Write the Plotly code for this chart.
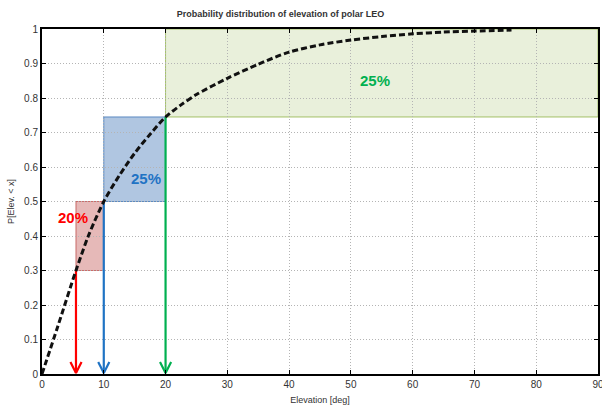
import plotly.graph_objects as go

# CDF curve
elev = [0, 2.5, 5.5, 7.5, 10, 12.5, 15, 17.5, 20, 22.5, 25, 30, 35, 40, 45, 50, 55, 60, 65, 70, 76]
prob = [0, 0.135, 0.3, 0.4, 0.5, 0.575, 0.64, 0.695, 0.745, 0.78, 0.81, 0.857, 0.898, 0.933, 0.954, 0.968, 0.978, 0.986, 0.991, 0.994, 0.997]

# Highlighted bands
band_x0 = [5.5, 10, 20]
band_x1 = [10, 20, 90]
band_y0 = [0.3, 0.5, 0.745]
band_y1 = [0.5, 0.745, 1.0]
band_fill = ["rgba(192,80,77,0.40)", "rgba(79,129,189,0.45)", "rgba(155,187,89,0.22)"]
band_line = ["rgba(192,80,77,0.8)", "rgba(79,129,189,0.9)", "rgba(155,187,89,0.9)"]

# Arrows (x, top y)
arrow_x = [5.5, 10, 20]
arrow_top = [0.3, 0.5, 0.745]
arrow_color = ["#ff0000", "#1f73c4", "#00b050"]

# Percentage labels
label_text = ["20%", "25%", "25%"]
label_x = [5.0, 16.8, 53.9]
label_y = [0.455, 0.568, 0.852]
label_color = ["#ff0000", "#1f73c4", "#00b050"]

xticks = list(range(0, 91, 10))
yticks = [i / 10 for i in range(0, 11)]
ytick_text = ["0", "0.1", "0.2", "0.3", "0.4", "0.5", "0.6", "0.7", "0.8", "0.9", "1"]

fig = go.Figure()

for x0, x1, y0, y1, fc, lc in zip(band_x0, band_x1, band_y0, band_y1, band_fill, band_line):
    fig.add_shape(type="rect", x0=x0, x1=x1, y0=y0, y1=y1, fillcolor=fc,
                  line=dict(color=lc, width=1), layer="below")

# arrows: vertical line + open V head
hw, hh = 0.9, 0.035
for ax, top, col in zip(arrow_x, arrow_top, arrow_color):
    fig.add_trace(go.Scatter(
        x=[ax, ax, None, ax - hw, ax, ax + hw],
        y=[top, 0.003, None, hh, 0.003, hh],
        mode="lines", line=dict(color=col, width=2.2), hoverinfo="skip", showlegend=False))

fig.add_trace(go.Scatter(x=elev, y=prob, mode="lines",
                         line=dict(color="#111111", width=3, dash="6px,3px", shape="spline", smoothing=0.8),
                         showlegend=False))

for t, x, y, c in zip(label_text, label_x, label_y, label_color):
    fig.add_annotation(x=x, y=y, text="<b>" + t + "</b>", showarrow=False,
                       font=dict(family="Liberation Sans, Arial", size=15, color=c))

axis_common = dict(showline=True, linecolor="black", linewidth=2, mirror="ticks",
                   ticks="inside", ticklen=4, tickcolor="black", tickwidth=1,
                   showgrid=True, gridcolor="#b4b4b4", griddash="1px,2px", gridwidth=1,
                   zeroline=False, automargin=False, ticklabeloverflow="allow",
                   tickfont=dict(family="Liberation Sans, Arial", size=10, color="#333"))

fig.update_layout(
    width=602, height=409,
    margin=dict(l=42, r=4, t=29, b=35),
    paper_bgcolor="white", plot_bgcolor="white",
    title=dict(text="<b>Probability distribution of elevation of polar LEO</b>",
               x=0.466, xanchor="center", y=0.975, yanchor="top",
               font=dict(family="Liberation Sans, Arial", size=9, color="#333")),
    xaxis=dict(range=[0, 90], tickvals=xticks,
               title=dict(text="Elevation [deg]", standoff=8,
                          font=dict(family="Liberation Sans, Arial", size=9, color="#333")),
               **axis_common),
    yaxis=dict(range=[0, 1], tickvals=yticks, ticktext=ytick_text,
               title=dict(text="P[Elev. < x]", standoff=8,
                          font=dict(family="Liberation Sans, Arial", size=9, color="#333")),
               **axis_common),
)

fig.write_html("out.html", config={"displayModeBar": False},
               post_script="document.body.style.margin='0';document.body.style.overflow='hidden';")
